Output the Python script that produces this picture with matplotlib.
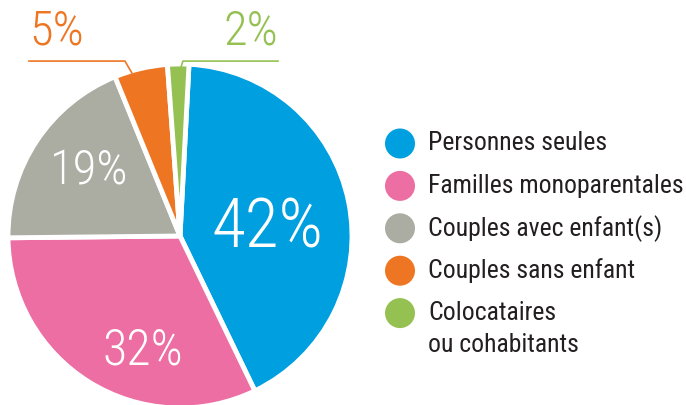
import matplotlib
matplotlib.use("Agg")
import matplotlib.pyplot as plt
from matplotlib import font_manager
from matplotlib.patches import Circle
import numpy as np

categories = ["Personnes seules", "Familles monoparentales", "Couples avec enfant(s)",
              "Couples sans enfant", "Colocataires\nou cohabitants"]
values = [42, 32, 19, 5, 2]
pct_labels = ["42%", "32%", "19%", "5%", "2%"]
colors = ["#009FE0", "#EC6EA3", "#ABADA3", "#EE7623", "#95C153"]

avail = {f.name for f in font_manager.fontManager.ttflist}
def pick(cands):
    for c in cands:
        if c in avail:
            return c
    return "DejaVu Sans"
leg_font = pick(["Roboto Condensed", "Liberation Sans Narrow", "Roboto", "DejaVu Sans"])
pct_font = pick(["Roboto Condensed", "Roboto", "Liberation Sans Narrow", "DejaVu Sans"])
light_ok = any(f.name == pct_font and f.weight in (300, "light") for f in font_manager.fontManager.ttflist)
pct_weight = "light" if light_ok else "normal"

W, H = 686, 405
fig = plt.figure(figsize=(W / 100, H / 100), dpi=100)
cx, cy, R = 180, 236, 172
ax = fig.add_axes([(cx - R) / W, (H - cy - R) / H, 2 * R / W, 2 * R / H])
wedges, _ = ax.pie(values, colors=colors, startangle=87, counterclock=False,
                   radius=1, wedgeprops=dict(edgecolor="white", linewidth=3.5))
ax.set_xlim(-1, 1)
ax.set_ylim(-1, 1)
ax.set_aspect("equal")
ax.axis("off")

# inside labels: (radius, angle deg, fontsize)
inside = {0: (0.51, 5.0, 50), 1: (0.70, -108.0, 36), 2: (0.65, 144.5, 35)}
for i, (r, a, fs) in inside.items():
    ax.text(r * np.cos(np.radians(a)), r * np.sin(np.radians(a)), pct_labels[i],
            color="white", fontsize=fs, ha="center", va="center",
            family=pct_font, weight=pct_weight)

# outside labels with leader lines
outside = {3: dict(text=(-0.715, 1.19), line=[(-0.878, 1.017), (-0.32, 1.017), (-0.28, 0.948)]),
           4: dict(text=(0.41, 1.19), line=[(0.570, 1.017), (0.017, 1.017), (0.006, 0.983)])}
for i, d in outside.items():
    xs, ys = zip(*d["line"])
    ax.plot(xs, ys, color=colors[i], lw=1.2, clip_on=False)
    ax.text(*d["text"], pct_labels[i], color=colors[i], fontsize=35, ha="center",
            va="center", family=pct_font, weight=pct_weight, clip_on=False)

# legend
lax = fig.add_axes([0, 0, 1, 1])
lax.set_xlim(0, W)
lax.set_ylim(H, 0)
lax.axis("off")
y0, step, line_gap = 143.5, 42.4, 32
for i, (lab, col) in enumerate(zip(categories, colors)):
    y = y0 + i * step
    lax.add_patch(Circle((400, y), 15, color=col, lw=0))
    for k, line in enumerate(lab.split("\n")):
        lax.text(428, y + k * line_gap, line, fontsize=18.5, family=leg_font,
                 color="#231F20", ha="left", va="center")

fig.savefig("out.png", dpi=100, facecolor="white")
